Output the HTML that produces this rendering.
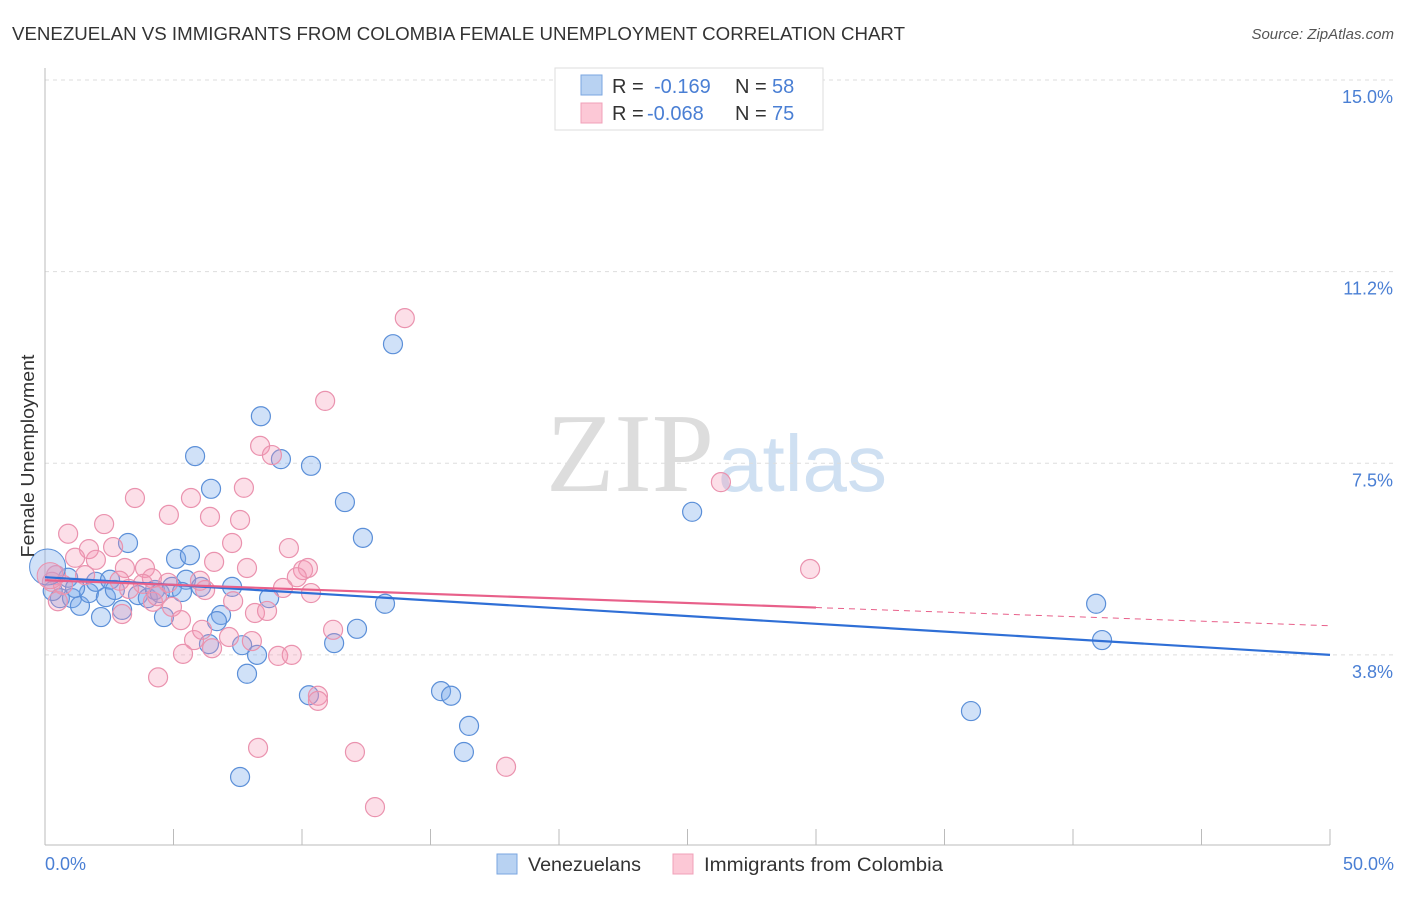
<!DOCTYPE html>
<html><head><meta charset="utf-8"><style>
body{margin:0;background:#fff;font-family:"Liberation Sans",sans-serif;}
svg text{font-family:"Liberation Sans",sans-serif;}
</style></head><body>
<svg width="1406" height="892" xmlns="http://www.w3.org/2000/svg">
<text x="12" y="40" font-size="18" fill="#333" textLength="893" lengthAdjust="spacingAndGlyphs">VENEZUELAN VS IMMIGRANTS FROM COLOMBIA FEMALE UNEMPLOYMENT CORRELATION CHART</text>
<text x="1394" y="39" font-size="15" fill="#555" font-style="italic" text-anchor="end">Source: ZipAtlas.com</text>
<text x="714" y="491" font-size="112" fill="#ddd" text-anchor="end" font-family="Liberation Serif" style="font-family:'Liberation Serif',serif">ZIP</text>
<text x="718" y="491" font-size="80" fill="#cfe0f2">atlas</text>
<g id="grid"></g>
<g id="axes"></g>
<g id="pts"></g>
<g id="lines"></g>
<text transform="translate(34,456) rotate(-90)" font-size="18" fill="#333" text-anchor="middle" textLength="203" lengthAdjust="spacingAndGlyphs">Female Unemployment</text>
<text x="45" y="870" font-size="18" fill="#4a7fd4">0.0%</text>
<text x="1394" y="870" font-size="18" fill="#4a7fd4" text-anchor="end">50.0%</text>
<g>
<rect x="555" y="68" width="268" height="62" fill="#fff" stroke="#ddd"/>
<rect x="581" y="75" width="21" height="20" fill="#b8d2f2" stroke="#7aa6e0"/>
<rect x="581" y="103" width="21" height="20" fill="#fcc8d6" stroke="#f0a0b8"/>
<text x="612" y="93" font-size="20" fill="#333">R =</text><text x="654" y="93" font-size="20" fill="#4a7fd4">-0.169</text>
<text x="735" y="93" font-size="20" fill="#333">N =</text><text x="772" y="93" font-size="20" fill="#4a7fd4">58</text>
<text x="612" y="120" font-size="20" fill="#333">R =</text><text x="647" y="120" font-size="20" fill="#4a7fd4">-0.068</text>
<text x="735" y="120" font-size="20" fill="#333">N =</text><text x="772" y="120" font-size="20" fill="#4a7fd4">75</text>
</g>
<g>
<rect x="497" y="854" width="20" height="20" fill="#b8d2f2" stroke="#7aa6e0"/>
<text x="528" y="871" font-size="19" fill="#333" textLength="113" lengthAdjust="spacingAndGlyphs">Venezuelans</text>
<rect x="673" y="854" width="20" height="20" fill="#fcc8d6" stroke="#f0a0b8"/>
<text x="704" y="871" font-size="19" fill="#333" textLength="239" lengthAdjust="spacingAndGlyphs">Immigrants from Colombia</text>
</g>
</svg>
<script>
const yTicks=[15.0,11.25,7.5,3.75];
const yTickLabels=["15.0%","11.2%","7.5%","3.8%"];
const blueX=[13.54,8.40,5.84,9.18,10.35,6.46,11.67,25.18,12.37,3.23,5.10,5.64,5.49,6.07,7.28,40.9,41.13,13.23,8.72,6.85,6.69,4.63,2.18,3.0,12.14,11.25,6.38,7.67,8.25,7.86,10.27,15.41,15.80,16.5,16.3,36.03,7.59,0.58,1.05,1.36,1.71,1.98,2.53,2.37,2.72,3.62,4.0,4.28,4.47,4.94,5.33,0.9,1.17,0.3];
const blueY=[9.83,8.42,7.64,7.58,7.45,7.00,6.74,6.55,6.04,5.94,5.63,5.70,5.22,5.08,5.08,4.75,4.04,4.75,4.86,4.53,4.41,4.49,4.49,4.63,4.26,3.98,3.96,3.94,3.75,3.38,2.96,3.04,2.95,2.36,1.85,2.65,1.36,4.86,4.86,4.71,4.96,5.18,5.22,4.88,5.02,4.92,4.86,5.02,4.96,5.08,4.98,5.26,5.06,5.0];
const pinkX=[14.0,10.9,8.37,8.83,26.3,3.5,5.68,7.74,4.82,6.42,7.59,2.3,0.9,7.28,9.49,1.71,2.65,1.17,1.98,6.58,7.86,29.77,3.11,3.89,10.04,10.23,9.8,0.43,0.27,0.7,1.56,4.16,4.79,3.81,3.27,9.26,10.35,6.23,7.32,4.94,4.2,3.0,8.17,8.64,5.29,7.16,5.8,6.5,8.05,5.37,9.07,9.6,6.11,11.21,4.4,10.62,10.62,8.29,12.06,17.94,12.84,6.03,2.9,4.36,0.5];
const pinkY=[10.34,8.72,7.84,7.66,7.13,6.82,6.82,7.02,6.49,6.45,6.39,6.31,6.12,5.94,5.84,5.82,5.86,5.65,5.61,5.57,5.45,5.43,5.45,5.45,5.41,5.45,5.27,5.31,5.18,5.12,5.31,5.25,5.16,5.14,5.04,5.06,4.96,5.02,4.8,4.69,4.79,4.55,4.57,4.61,4.43,4.1,4.04,3.88,4.02,3.77,3.73,3.75,4.24,4.24,3.31,2.95,2.85,1.93,1.85,1.56,0.77,5.2,5.2,4.9,4.8];
const blueTrend=[5.27,3.75];
const pinkTrend=[5.21,4.32];
const pinkSolidEnd=30;
const NS="http://www.w3.org/2000/svg";
const X=v=>45+v/50*1285;
const Y=v=>80+(15-v)*51.1;
function mk(t,a,p){const e=document.createElementNS(NS,t);for(const k in a)e.setAttribute(k,a[k]);p.appendChild(e);return e;}
const grid=document.getElementById('grid'),axes=document.getElementById('axes'),pts=document.getElementById('pts'),lines=document.getElementById('lines');
yTicks.forEach((v,i)=>{
 const l=mk('line',{x1:45,x2:1394,y1:Y(v),y2:Y(v),stroke:'#ddd','stroke-dasharray':'4,4'},grid);
 
 
 const t=mk('text',{x:1393,y:Y(v)+23,'font-size':18,fill:'#4a7fd4','text-anchor':'end'},grid);
 t.textContent=yTickLabels[i];
 
 
});
mk('line',{x1:45,x2:45,y1:68,y2:845,stroke:'#bbb'},axes);
mk('line',{x1:45,x2:1330,y1:845,y2:845,stroke:'#bbb'},axes);
for(let i=0;i<=10;i++){const t=mk('line',{x1:X(i*5),x2:X(i*5),y1:829,y2:845,stroke:'#bbb'},axes);
 
 }
blueX.forEach((x,i)=>{const c=mk('circle',{cx:X(x),cy:Y(blueY[i]),r:9.5,fill:'rgba(120,170,235,0.35)',stroke:'#5b8fd8','stroke-width':1.2},pts);
 
 });
pinkX.forEach((x,i)=>{const c=mk('circle',{cx:X(x),cy:Y(pinkY[i]),r:9.5,fill:'rgba(245,150,180,0.3)',stroke:'#ea92ae','stroke-width':1.2},pts);
 
 });
const bb=mk('circle',{cx:X(0.1),cy:Y(5.47),r:18,fill:'rgba(120,170,235,0.35)',stroke:'#5b8fd8'},pts);


const pb=mk('circle',{cx:X(0.2),cy:Y(5.3),r:13,fill:'rgba(245,150,180,0.35)',stroke:'#ea92ae'},pts);


const lb=mk('line',{x1:X(0),y1:Y(blueTrend[0]),x2:X(50),y2:Y(blueTrend[1]),stroke:'#2f6fd6','stroke-width':2.2},lines);


const pm=v=>pinkTrend[0]+(pinkTrend[1]-pinkTrend[0])*v/50;
const lp=mk('line',{x1:X(0),y1:Y(pinkTrend[0]),x2:X(pinkSolidEnd),y2:Y(pm(pinkSolidEnd)),stroke:'#e8608a','stroke-width':2.2},lines);


const ld=mk('line',{x1:X(pinkSolidEnd),y1:Y(pm(pinkSolidEnd)),x2:X(50),y2:Y(pinkTrend[1]),stroke:'#e8608a','stroke-width':1,'stroke-dasharray':'6,5'},lines);


</script>
</body></html>
